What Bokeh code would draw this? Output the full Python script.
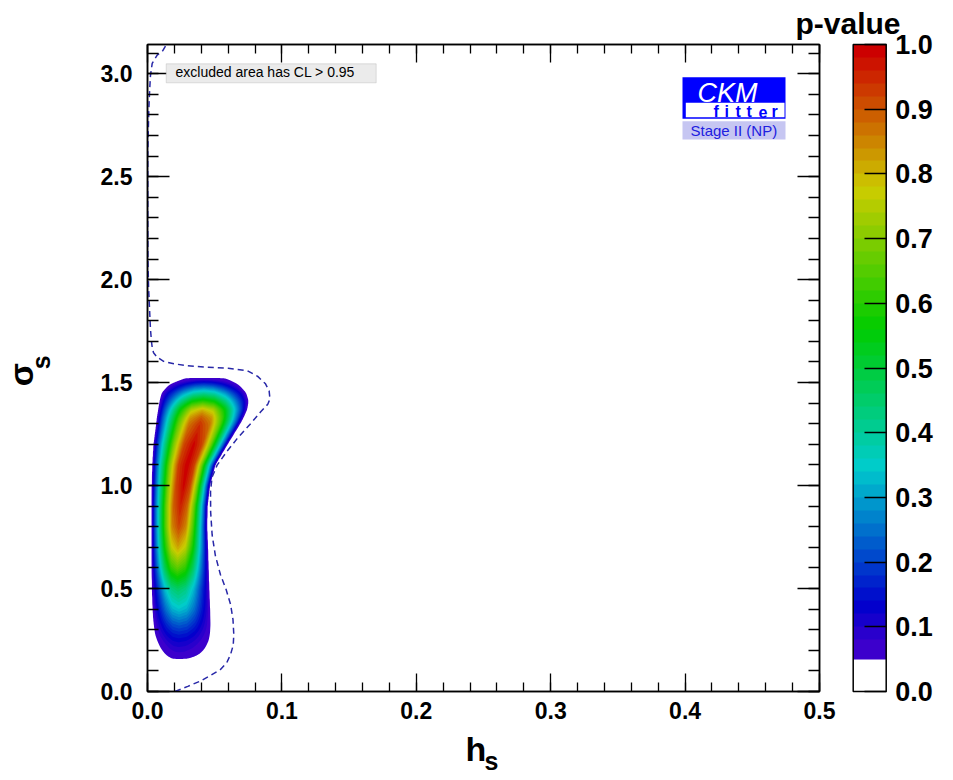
import colorsys
import numpy as np
from bokeh.plotting import figure
from bokeh.layouts import column, row
from bokeh.models import (Range1d, LinearAxis, SingleIntervalTicker, FixedTicker,
                          PrintfTickFormatter, Label, ColorBar, LinearColorMapper,
                          BoxAnnotation, CustomLabelingPolicy)
from bokeh.core.properties import value
from bokeh.embed import file_html
from bokeh.resources import INLINE

# ---------------- values ----------------
# allowed region: per sigma_s row, left edge / ridge / right edge (h_s) of the
# p = 0.05 contour and the p-value on the ridge
RIDGE_SIGMA = [0.146, 0.152, 0.158, 0.165, 0.175, 0.190, 0.210, 0.245, 0.280,
               0.320, 0.360, 0.400, 0.450, 0.500, 0.550, 0.600, 0.650, 0.700,
               0.750, 0.800, 0.900, 1.000, 1.100, 1.200, 1.300, 1.330, 1.370,
               1.410, 1.450, 1.490, 1.520, 1.540]
RIDGE_LEFT = [0.0233, 0.0205, 0.0180, 0.0160, 0.0140, 0.0118, 0.0097, 0.0072,
              0.0055, 0.0047, 0.0041, 0.0038, 0.0035, 0.0033, 0.0032, 0.0031,
              0.0030, 0.0030, 0.0030, 0.0030, 0.0030, 0.0032, 0.0036, 0.0045,
              0.0065, 0.0070, 0.0080, 0.0090, 0.0105, 0.0160, 0.0270, 0.0350]
RIDGE_CENTER = [0.0233, 0.0233, 0.0233, 0.0233, 0.0233, 0.0232, 0.0231, 0.0230,
                0.0233, 0.0235, 0.0234, 0.0233, 0.0229, 0.0225, 0.0223, 0.0222,
                0.0224, 0.0226, 0.0229, 0.0233, 0.0245, 0.0270, 0.0295, 0.0345,
                0.0390, 0.0400, 0.0408, 0.0412, 0.0420, 0.0420, 0.0420, 0.0420]
RIDGE_RIGHT = [0.0233, 0.0265, 0.0300, 0.0340, 0.0375, 0.0405, 0.0430, 0.0456,
               0.0466, 0.0469, 0.0468, 0.0466, 0.0463, 0.0460, 0.0457, 0.0455,
               0.0452, 0.0450, 0.0447, 0.0444, 0.0447, 0.0465, 0.0505, 0.0596,
               0.0690, 0.0715, 0.0742, 0.0752, 0.0735, 0.0680, 0.0590, 0.0500]
RIDGE_PMAX = [0.000, 0.051, 0.055, 0.060, 0.068, 0.080, 0.095, 0.125, 0.165,
              0.220, 0.280, 0.340, 0.400, 0.460, 0.560, 0.660, 0.740, 0.820,
              0.870, 0.920, 0.960, 0.990, 1.000, 0.990, 0.940, 0.900, 0.800,
              0.600, 0.400, 0.200, 0.050, 0.000]
# cross-section: distance from ridge (1 = edge of p = 0.05) -> fraction
PROFILE_D = [0.0, 0.25, 0.50, 0.70, 0.87, 1.00]
PROFILE_F = [1.0, 0.92, 0.68, 0.42, 0.20, 0.00]

# dashed contour (expected exclusion boundary)
DASH_HS = [0.0205, 0.0300, 0.0394, 0.0470, 0.0543, 0.0590, 0.0618, 0.0638,
           0.0642, 0.0636, 0.0618, 0.0585, 0.0543, 0.0505, 0.0481, 0.0470,
           0.0469, 0.0480, 0.0518, 0.0590, 0.0667, 0.0760, 0.0841, 0.0895,
           0.0911, 0.0905, 0.0878, 0.0820, 0.0742, 0.0600, 0.0444, 0.0300,
           0.0196, 0.0120, 0.0072, 0.0045, 0.0035, 0.0030, 0.0022, 0.0015,
           0.0008, 0.0003, 0.0002, 0.0002, 0.0005, 0.0010, 0.0016, 0.0022,
           0.0035, 0.0072, 0.0114, 0.0140]
DASH_SIGMA = [0.000, 0.025, 0.051, 0.078, 0.107, 0.140, 0.180, 0.225,
              0.277, 0.350, 0.423, 0.495, 0.567, 0.660, 0.760, 0.870,
              0.970, 1.040, 1.099, 1.165, 1.228, 1.295, 1.357, 1.395,
              1.421, 1.460, 1.494, 1.530, 1.558, 1.570, 1.575, 1.582,
              1.591, 1.603, 1.623, 1.645, 1.671, 1.696, 1.760, 1.860,
              1.960, 2.100, 2.300, 2.600, 2.700, 2.830, 2.920, 2.990,
              3.050, 3.090, 3.112, 3.141]

# colour levels of the p-value map
LEVELS = [0.05, 0.08, 0.10, 0.12, 0.14, 0.16, 0.18, 0.20, 0.22, 0.24, 0.26,
          0.28, 0.30, 0.32, 0.34, 0.36, 0.38, 0.40, 0.42, 0.44, 0.46, 0.48,
          0.50, 0.52, 0.54, 0.56, 0.58, 0.60, 0.62, 0.64, 0.66, 0.68, 0.70,
          0.72, 0.74, 0.76, 0.78, 0.80, 0.82, 0.84, 0.86, 0.88, 0.90, 0.92,
          0.94, 0.96, 0.98, 1.001]
CB_TICKS = [0.0, 0.1, 0.2, 0.3, 0.4, 0.5, 0.6, 0.7, 0.8, 0.9, 1.0]

FONT = "Liberation Sans"


def root_pretty(v):
    """ROOT 'pretty' palette (50 colours, violet -> red)."""
    i = min(49, max(0, int(v * 50)))
    hue = 280.0 - (i + 1) * 280.0 / 50.0
    r, g, b = colorsys.hls_to_rgb(hue / 360.0, 0.4, 1.0)
    return "#%02x%02x%02x" % (int(round(r * 255)), int(round(g * 255)), int(round(b * 255)))


BAND_COLORS = [root_pretty(0.5 * (LEVELS[k] + min(LEVELS[k + 1], 1.0)))
               for k in range(len(LEVELS) - 1)]

CB_PALETTE = []
for j in range(100):
    v = (j + 0.5) / 100.0
    if v < LEVELS[0]:
        CB_PALETTE.append("#ffffff")
    else:
        k = int(np.searchsorted(LEVELS, v, side="right")) - 1
        CB_PALETTE.append(BAND_COLORS[min(k, len(BAND_COLORS) - 1)])

# ---------------- p-value field ----------------
hs_grid = np.linspace(0.0, 0.1, 401)
sg_grid = np.linspace(0.0, 1.7, 681)


def smooth(a, w=3):
    kern = np.exp(-0.5 * (np.arange(-3 * w, 3 * w + 1) / w) ** 2)
    kern /= kern.sum()
    return np.convolve(np.pad(a, 3 * w, mode="edge"), kern, mode="valid")


H = hs_grid[None, :]
Cc = smooth(np.interp(sg_grid, RIDGE_SIGMA, RIDGE_CENTER))[:, None]
Ll = smooth(np.interp(sg_grid, RIDGE_SIGMA, RIDGE_LEFT))[:, None]
Rr = smooth(np.interp(sg_grid, RIDGE_SIGMA, RIDGE_RIGHT))[:, None]
PM = smooth(np.interp(sg_grid, RIDGE_SIGMA, RIDGE_PMAX))[:, None]
d = np.where(H < Cc, (Cc - H) / np.maximum(Cc - Ll, 1e-6), (H - Cc) / np.maximum(Rr - Cc, 1e-6))
f = np.interp(np.minimum(d, 1.0), PROFILE_D, PROFILE_F)
Z = np.where(d <= 1.0, 0.049 + (PM - 0.049) * f, 0.049 * np.clip(2.0 - d, 0.0, 1.0))

# ---------------- main figure ----------------
# canvas layout (pixels): row of [left strip 60 | main 885], height 729; bottom strip 49
p = figure(width=885, height=729, x_range=Range1d(0, 0.5), y_range=Range1d(0, np.pi),
           output_backend="svg", toolbar_location=None,
           min_border_left=87, min_border_right=126, min_border_top=44,
           min_border_bottom=38)
p.grid.visible = False
p.outline_line_color = "black"
p.outline_line_width = 1.5
p.border_fill_color = "white"
p.background_fill_color = "white"

# colour-bar title, drawn as the figure title above the frame
p.title.text = "p-value"
p.title.align = "left"
p.title.offset = 648
p.title.vertical_align = "bottom"
p.title.standoff = 0
p.title.text_font = FONT
p.title.text_font_size = "30px"
p.title.text_font_style = "bold"
p.title.text_color = "black"

# filled contours drawn as stacked super-level regions (no seams)
for k in range(len(LEVELS) - 1):
    p.contour(hs_grid, sg_grid, Z, levels=[LEVELS[k], 2.0], fill_color=[BAND_COLORS[k]])

p.line(DASH_HS, DASH_SIGMA, line_color="#2828a8", line_width=1.5, line_dash="6 4")

NO_LABELS = CustomLabelingPolicy(code="for (const i of indices) indices.unset(i)")


def style_axis(ax, major, minor, labels):
    ax.axis_line_color = "black"
    ax.axis_line_width = 1.5
    ax.major_tick_in = major
    ax.major_tick_out = 0
    ax.minor_tick_in = minor
    ax.minor_tick_out = 0
    ax.major_tick_line_color = "black"
    ax.minor_tick_line_color = "black"
    ax.major_tick_line_width = 1.3
    ax.minor_tick_line_width = 1.3
    ax.formatter = PrintfTickFormatter(format="%.1f")
    if labels:
        ax.major_label_text_font = FONT
        ax.major_label_text_font_style = "bold"
        ax.major_label_text_font_size = "23px"
        ax.major_label_text_color = "black"
    else:
        ax.major_label_text_font_size = "1px"
        ax.major_label_standoff = 0
        ax.major_label_policy = NO_LABELS


xa = p.xaxis[0]
xa.ticker = SingleIntervalTicker(interval=0.1, num_minor_ticks=5)
style_axis(xa, 18, 9, True)
xa.major_label_standoff = 10

ya = p.yaxis[0]
ya.ticker = SingleIntervalTicker(interval=0.5, num_minor_ticks=5)
style_axis(ya, 22, 11, True)
ya.major_label_standoff = 15

xt = LinearAxis(ticker=SingleIntervalTicker(interval=0.1, num_minor_ticks=5))
style_axis(xt, 18, 9, False)
xt.major_label_standoff = 1
p.add_layout(xt, "above")
yr = LinearAxis(ticker=SingleIntervalTicker(interval=0.5, num_minor_ticks=5))
style_axis(yr, 22, 11, False)
p.add_layout(yr, "right")

# colour bar
mapper = LinearColorMapper(palette=CB_PALETTE, low=0.0, high=1.0)
cbar = ColorBar(color_mapper=mapper, location=(705.7, 0), orientation="vertical",
                width=33, height=647, padding=0, margin=0,
                ticker=FixedTicker(ticks=CB_TICKS),
                formatter=PrintfTickFormatter(format="%.1f"),
                major_tick_in=22, major_tick_out=0,
                major_tick_line_color="black", major_tick_line_width=1.3,
                minor_tick_line_color=None,
                bar_line_color="black", bar_line_width=1.5,
                label_standoff=9,
                major_label_text_font=FONT, major_label_text_font_style="bold",
                major_label_text_font_size="27px", major_label_text_color="black",
                background_fill_color=None, border_line_color=None)
p.add_layout(cbar)


# page pixel -> frame screen coordinate (frame spans x 147..819, y 44..691)
def fx(px):
    return px - 147.0


def fy(py):
    return 691.0 - py


def lab(x, y, text, size, color="black", style="normal", baseline="alphabetic"):
    p.add_layout(Label(x=fx(x), y=fy(y), x_units="screen", y_units="screen",
                       text=text, text_font=FONT, text_font_size=size,
                       text_font_style=style, text_color=color,
                       text_align="left", text_baseline=baseline))


def box(l, r, t, b, fill, line=None):
    p.add_layout(BoxAnnotation(left=fx(l), right=fx(r), top=fy(t), bottom=fy(b),
                               left_units="screen", right_units="screen",
                               top_units="screen", bottom_units="screen",
                               fill_color=fill, fill_alpha=1.0,
                               line_color=line, line_width=1))


# excluded-area box
box(165.7, 375.7, 63.3, 82.3, "#ebebeb", "#a0a0a0")
lab(175, 71, "excluded area has CL > 0.95", "14px", baseline="middle")

# CKMfitter logo
box(682, 785, 76.7, 118.3, "#0000ff")
box(685.3, 784, 102.3, 116.7, "#ffffff")
box(682, 785, 120.7, 139, "#c6c6f2")
lab(697, 92, "CKM", "27px", color="white", style="italic")
for ch, cx in zip("fitter", [713, 724, 735, 746, 758, 771]):
    lab(cx, 111, ch, "16px", color="#0000ff", style="bold")
lab(690, 129.5, "Stage II (NP)", "15px", color="#2020e0")


# ---------------- text strips beside / below the main figure ----------------
def strip(w, h):
    s = figure(width=w, height=h, x_range=Range1d(0, w), y_range=Range1d(0, h),
               output_backend="svg", toolbar_location=None,
               x_axis_location=None, y_axis_location=None,
               min_border=0, min_border_left=0, min_border_right=0,
               min_border_top=0, min_border_bottom=0)
    s.outline_line_color = None
    s.grid.visible = False
    return s


def txt(s, x, y, text, size, angle=0.0):
    s.text(x=[x], y=[y], text=[text], angle=angle, text_font=value(FONT),
           text_font_size=value(size), text_font_style="bold", text_color="black",
           text_align="left", text_baseline="alphabetic")


left = strip(60, 729)      # page y 0..729
txt(left, 20, 344, "σ", "34px", angle=np.pi / 2)
txt(left, 40.5, 363, "s", "25px", angle=np.pi / 2)

bottom = strip(945, 49)    # page y 729..778
txt(bottom, 465, 778 - 748, "h", "34px")
txt(bottom, 484, 778 - 760, "s", "25px")

layout = column(row(left, p), bottom)

open("out.html", "w").write(file_html(layout, INLINE))
